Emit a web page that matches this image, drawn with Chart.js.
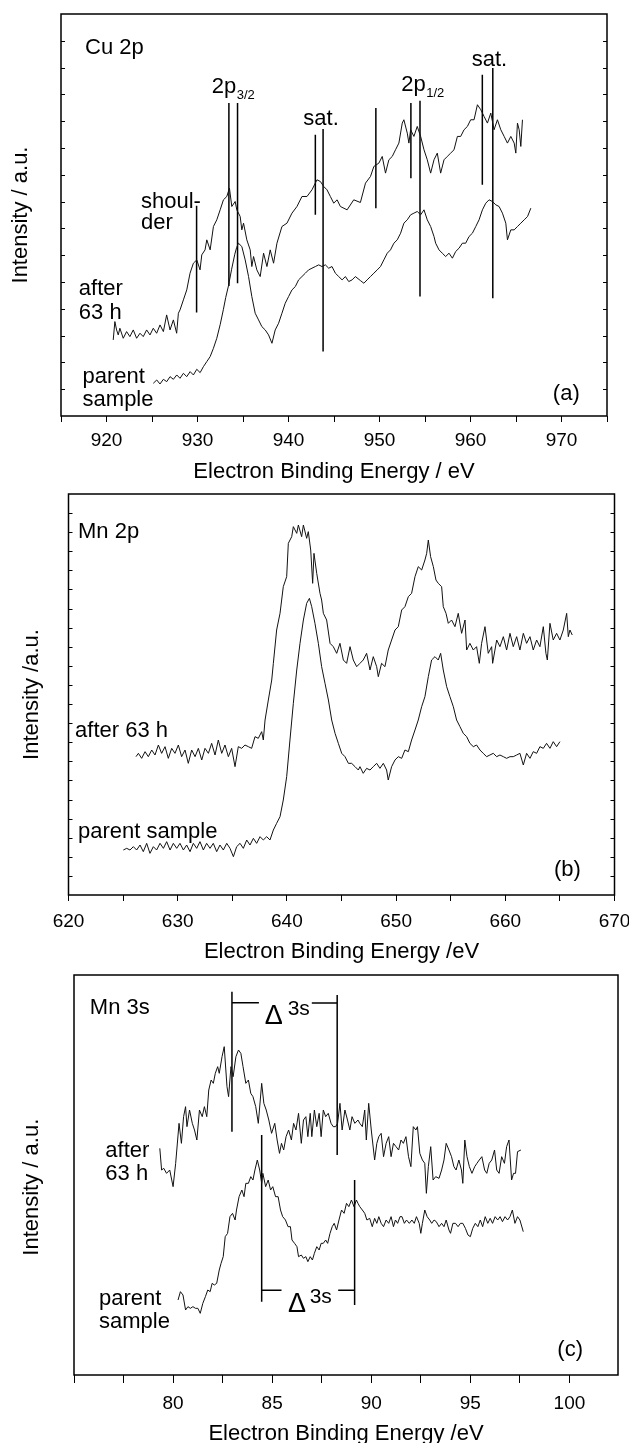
<!DOCTYPE html>
<html>
<head>
<meta charset="utf-8">
<title>XPS spectra: Cu 2p, Mn 2p, Mn 3s</title>
<script src="https://cdn.jsdelivr.net/npm/chart.js@4.4.1/dist/chart.umd.min.js"></script>
<style>
  html, body { margin: 0; padding: 0; background: #fff; overflow: hidden; }
  body { width: 629px; height: 1443px; position: relative; }
  canvas { position: absolute; left: 0; }
</style>
</head>
<body>
<canvas id="cu2p" width="629" height="500" style="top:0px"></canvas>
<canvas id="mn2p" width="629" height="500" style="top:480px"></canvas>
<canvas id="mn3s" width="629" height="500" style="top:960px"></canvas>
<script>
const FONT = '"Liberation Sans", Arial, Helvetica, sans-serif';
Chart.defaults.font.family = FONT;
Chart.defaults.color = '#000';

// ---------- (a) Cu 2p ----------
const cuAfterEnergy = [
  920.74, 920.92, 921.11, 921.29, 921.47, 921.84, 922.21, 922.57, 922.94, 923.31,
  923.68, 924.04, 924.41, 924.78, 925.14, 925.51, 925.88, 926.25, 926.61, 926.98,
  927.35, 927.71, 927.90, 928.08, 928.45, 928.82, 929.18, 929.55, 929.92, 930.28,
  930.47, 930.83, 931.02, 931.39, 931.75, 932.12, 932.49, 932.85, 933.22, 933.51,
  933.77, 934.14, 934.32, 934.69, 934.87, 935.06, 935.42, 935.79, 935.97, 936.16,
  936.52, 936.89, 937.26, 937.63, 937.99, 938.36, 938.73, 939.28, 939.83, 940.38,
  940.93, 941.48, 942.03, 942.58, 943.13, 943.50, 943.87, 944.23, 944.60, 944.97,
  945.34, 945.70, 946.44, 947.17, 947.90, 948.46, 949.01, 949.38, 949.93, 950.30,
  950.66, 951.03, 951.40, 951.76, 952.13, 952.50, 952.68, 953.05, 953.23, 953.42,
  953.78, 954.15, 954.52, 954.89, 955.25, 955.62, 955.99, 956.35, 956.72, 957.09,
  957.45, 957.82, 958.19, 958.56, 958.92, 959.29, 959.66, 960.02, 960.39, 960.76,
  961.13, 961.49, 961.86, 962.23, 962.59, 962.96, 963.33, 963.70, 964.06, 964.43,
  964.80, 964.98, 965.16, 965.35, 965.53, 965.71
];
const cuAfterCounts = [
  22.8, 28.3, 25.8, 24.3, 26.3, 23.3, 25.3, 23.8, 25.8, 23.3,
  24.8, 23.8, 25.8, 24.3, 26.3, 24.8, 27.3, 25.3, 30.3, 25.8,
  28.8, 24.8, 30.8, 31.8, 34.8, 37.8, 42.8, 45.8, 46.8, 43.8,
  48.3, 49.8, 52.8, 49.8, 56.8, 58.8, 61.8, 64.8, 65.8, 68.3,
  62.8, 64.3, 61.8, 59.8, 55.8, 57.8, 52.8, 49.8, 44.8, 47.8,
  43.8, 41.8, 48.8, 44.8, 49.8, 45.8, 51.8, 56.8, 57.8, 60.8,
  62.8, 65.8, 65.8, 67.8, 70.8, 70.3, 68.8, 67.8, 65.8, 63.8,
  64.8, 62.8, 61.8, 64.8, 64.0, 69.8, 71.8, 74.8, 75.8, 77.8,
  72.8, 76.8, 77.8, 79.8, 81.8, 87.8, 88.8, 84.8, 81.8, 85.8,
  83.8, 86.8, 83.8, 79.8, 76.8, 72.8, 76.8, 78.8, 72.8, 76.8,
  77.8, 78.8, 79.8, 83.8, 83.8, 85.8, 86.8, 88.8, 88.8, 93.3,
  91.8, 89.8, 87.8, 90.8, 85.8, 88.8, 85.8, 83.8, 81.8, 83.8,
  81.8, 78.8, 87.8, 85.8, 80.8, 88.8
];
const cuParentEnergy = [
  925.14, 925.52, 925.88, 926.25, 926.62, 926.98, 927.35, 927.72, 928.08, 928.45,
  928.82, 929.19, 929.55, 929.92, 930.29, 930.65, 931.02, 931.39, 931.75, 932.12,
  932.50, 932.85, 933.10, 933.40, 933.75, 934.10, 934.30, 934.50, 934.87, 935.24,
  935.61, 935.97, 936.34, 936.71, 937.07, 937.44, 937.81, 938.18, 938.54, 938.91,
  939.28, 939.64, 940.01, 940.38, 940.75, 941.11, 941.48, 941.85, 942.21, 942.58,
  942.95, 943.32, 943.68, 944.05, 944.42, 944.78, 945.15, 945.52, 945.89, 946.25,
  946.62, 946.99, 947.35, 947.90, 948.28, 948.64, 949.01, 949.38, 949.75, 950.11,
  950.48, 950.85, 951.21, 951.58, 951.95, 952.32, 952.68, 953.05, 953.42, 953.78,
  954.15, 954.52, 954.89, 955.25, 955.62, 955.99, 956.17, 956.54, 956.90, 957.27,
  957.64, 958.01, 958.37, 958.74, 959.11, 959.47, 959.84, 960.21, 960.58, 960.94,
  961.31, 961.68, 962.04, 962.41, 962.78, 963.14, 963.51, 963.88, 964.06, 964.43,
  964.80, 965.16, 965.53, 965.90, 966.27, 966.63
];
const cuParentCounts = [
  9.8, 10.8, 9.6, 11.0, 10.3, 11.8, 11.0, 12.3, 11.3, 12.8,
  11.8, 13.3, 12.3, 14.0, 13.0, 14.8, 16.3, 17.8, 20.3, 23.3,
  27.5, 32.0, 35.5, 39.0, 44.0, 48.5, 50.5, 51.8, 50.8, 46.8,
  41.8, 35.8, 30.8, 28.8, 26.8, 25.8, 24.3, 21.8, 25.8, 27.8,
  30.8, 33.8, 35.8, 37.8, 38.8, 40.8, 41.8, 42.8, 43.8, 44.3,
  44.8, 45.3, 44.8, 45.3, 44.3, 44.8, 42.8, 41.8, 40.8, 41.8,
  40.3, 40.8, 41.8, 40.6, 39.8, 40.8, 41.8, 42.8, 43.8, 44.8,
  46.8, 48.8, 49.8, 51.8, 52.8, 54.8, 57.8, 58.8, 60.3, 60.8,
  61.3, 60.3, 61.8, 58.8, 56.8, 53.8, 51.8, 49.8, 48.8, 47.8,
  48.8, 47.3, 49.3, 50.3, 51.8, 51.8, 53.8, 54.8, 56.8, 58.8,
  61.8, 63.8, 64.8, 64.3, 63.3, 62.8, 60.8, 57.8, 52.8, 55.8,
  55.8, 56.8, 57.8, 58.8, 59.8, 62.3
];
// peak markers: [energy, top, bottom]
const cuPeakLines = [
  [929.9, 63.0, 31.0], [933.45, 93.8, 39.0], [934.4, 93.8, 39.8],
  [942.95, 84.3, 60.3], [943.8, 86.0, 19.3], [949.6, 92.3, 62.3],
  [953.45, 93.8, 71.3], [954.45, 94.5, 35.8], [961.3, 102.3, 69.3],
  [962.45, 104.3, 35.3]
];
const cuTickLabels = [920, 930, 940, 950, 960, 970];

// ---------- (b) Mn 2p ----------
const mnAfterEnergy = [
  626.18, 626.40, 626.70, 627.01, 627.31, 627.62, 627.92, 628.23, 628.53, 628.84,
  629.14, 629.45, 629.75, 630.06, 630.36, 630.67, 630.97, 631.28, 631.59, 631.89,
  632.20, 632.50, 632.81, 633.11, 633.42, 633.72, 634.03, 634.33, 634.64, 634.94,
  635.25, 635.55, 635.86, 636.16, 636.47, 636.77, 637.08, 637.38, 637.69, 637.84,
  638.00, 638.30, 638.61, 638.76, 639.06, 639.37, 639.67, 639.98, 640.13, 640.44,
  640.59, 640.90, 641.05, 641.35, 641.51, 641.81, 641.96, 642.18, 642.36, 642.48,
  642.73, 643.03, 643.18, 643.34, 643.64, 643.95, 644.25, 644.56, 644.86, 645.17,
  645.47, 645.78, 646.08, 646.39, 646.69, 646.99, 647.30, 647.61, 647.91, 648.22,
  648.37, 648.67, 648.98, 649.28, 649.59, 649.90, 650.20, 650.51, 650.81, 651.12,
  651.42, 651.73, 652.03, 652.34, 652.64, 652.80, 652.95, 653.16, 653.41, 653.65,
  653.86, 654.17, 654.32, 654.57, 654.78, 655.08, 655.39, 655.69, 656.00, 656.31,
  656.46, 656.76, 657.07, 657.37, 657.62, 657.83, 658.14, 658.44, 658.75, 658.84,
  659.21, 659.51, 659.82, 660.12, 660.43, 660.73, 661.04, 661.34, 661.65, 661.95,
  662.26, 662.56, 662.87, 663.17, 663.48, 663.72, 663.85, 664.09, 664.39, 664.70,
  665.00, 665.31, 665.62, 665.77, 665.92, 666.13
];
const mnAfterCounts = [
  41.5, 42.5, 41.0, 43.0, 41.5, 43.5, 42.0, 45.0, 42.5, 44.5,
  41.0, 44.0, 42.5, 45.0, 41.5, 43.5, 39.5, 43.5, 41.5, 44.0,
  40.5, 44.0, 42.5, 45.5, 42.0, 46.5, 42.5, 45.0, 41.5, 44.0,
  38.5, 44.5, 44.0, 45.0, 44.5, 44.0, 47.5, 47.0, 49.0, 46.5,
  52.5, 58.5, 64.5, 69.5, 79.5, 84.5, 92.5, 95.5, 105.5, 107.5,
  110.5, 108.5, 111.0, 107.5, 111.0, 107.0, 109.0, 103.5, 93.5, 102.5,
  96.5, 90.5, 88.5, 84.5, 82.5, 75.5, 74.5, 72.5, 75.5, 70.5,
  69.5, 74.5, 70.5, 68.5, 69.5, 70.5, 72.5, 67.5, 71.5, 68.5,
  65.5, 69.5, 68.5, 73.5, 76.5, 79.5, 80.5, 85.5, 86.5, 89.5,
  90.5, 95.5, 98.5, 97.5, 100.5, 102.5, 106.5, 101.5, 98.5, 94.5,
  93.5, 92.5, 86.5, 84.5, 81.5, 82.5, 80.5, 84.5, 78.5, 82.5,
  73.5, 75.5, 73.5, 74.5, 69.5, 75.5, 80.5, 72.5, 74.5, 69.5,
  76.5, 74.5, 77.5, 73.5, 78.5, 74.5, 77.5, 73.5, 78.5, 75.5,
  77.5, 73.5, 76.5, 74.5, 80.5, 72.5, 70.5, 81.5, 76.5, 78.5,
  76.5, 79.5, 84.5, 77.5, 79.5, 78.0
];
const mnParentEnergy = [
  625.02, 625.33, 625.63, 625.94, 626.24, 626.55, 626.85, 627.16, 627.46, 627.77,
  628.07, 628.38, 628.69, 628.99, 629.30, 629.60, 629.91, 630.21, 630.52, 630.82,
  631.13, 631.43, 631.74, 632.04, 632.35, 632.65, 632.96, 633.26, 633.57, 633.87,
  634.18, 634.49, 634.79, 635.10, 635.40, 635.71, 636.01, 636.32, 636.62, 636.93,
  637.23, 637.54, 637.84, 638.15, 638.45, 638.76, 639.06, 639.37, 639.67, 639.98,
  640.28, 640.59, 640.90, 641.20, 641.51, 641.81, 642.06, 642.27, 642.57, 642.88,
  643.18, 643.49, 643.80, 644.10, 644.41, 644.71, 645.02, 645.32, 645.63, 645.93,
  646.24, 646.54, 646.69, 646.99, 647.30, 647.61, 647.91, 648.22, 648.52, 648.83,
  649.13, 649.28, 649.59, 649.90, 650.20, 650.51, 650.81, 651.12, 651.42, 651.73,
  652.03, 652.34, 652.64, 652.95, 653.25, 653.56, 653.86, 654.08, 654.32, 654.63,
  654.93, 655.24, 655.54, 655.85, 656.15, 656.46, 656.76, 657.07, 657.37, 657.68,
  657.98, 658.29, 658.59, 658.90, 659.21, 659.51, 659.82, 660.12, 660.43, 660.73,
  661.04, 661.34, 661.65, 661.95, 662.26, 662.56, 662.87, 663.17, 663.48, 663.78,
  664.09, 664.39, 664.70, 665.00
];
const mnParentCounts = [
  13.5, 14.0, 13.5, 14.5, 13.5, 15.0, 13.0, 15.5, 12.5, 14.5,
  13.5, 15.5, 14.0, 16.0, 13.5, 15.5, 14.0, 15.5, 13.5, 15.0,
  13.0, 15.5, 14.0, 16.0, 13.5, 15.5, 14.0, 15.5, 13.0, 15.0,
  13.5, 15.5, 14.0, 11.5, 14.5, 15.5, 14.0, 16.5, 15.0, 17.0,
  15.5, 17.5, 16.5, 17.5, 16.5, 19.5, 21.5, 23.5, 28.5, 35.5,
  46.5, 57.5, 67.5, 75.5, 82.5, 87.5, 89.0, 86.5, 81.5, 75.5,
  68.5, 63.5, 58.5, 52.5, 48.5, 45.5, 42.5, 41.5, 39.5, 39.5,
  38.5, 37.5, 38.5, 36.5, 38.0, 37.5, 38.5, 39.5, 38.0, 39.5,
  37.5, 34.5, 38.5, 40.5, 41.5, 41.0, 43.5, 43.0, 46.5, 49.5,
  52.5, 56.5, 59.5, 65.5, 70.5, 71.5, 70.5, 72.5, 67.5, 62.5,
  59.5, 56.5, 52.5, 50.5, 48.5, 47.5, 45.5, 44.5, 45.0, 43.5,
  42.5, 41.5, 42.0, 42.5, 41.5, 42.0, 41.5, 41.0, 41.5, 41.5,
  42.0, 42.5, 39.0, 42.5, 41.0, 43.0, 42.5, 44.5, 44.0, 45.5,
  44.0, 46.0, 44.5, 46.0
];
const mnTickLabels = [620, 630, 640, 650, 660, 670];

// ---------- (c) Mn 3s ----------
const mn3sAfterEnergy = [
  79.33, 79.42, 79.53, 79.67, 79.83, 80.00, 80.13, 80.30, 80.42, 80.53,
  80.63, 80.70, 80.83, 80.97, 81.08, 81.20, 81.33, 81.47, 81.58, 81.70,
  81.80, 81.92, 82.03, 82.13, 82.25, 82.33, 82.47, 82.58, 82.72, 82.80,
  82.92, 83.03, 83.17, 83.30, 83.42, 83.53, 83.67, 83.80, 83.92, 84.03,
  84.17, 84.30, 84.47, 84.58, 84.70, 84.83, 84.97, 85.13, 85.25, 85.37,
  85.47, 85.58, 85.70, 85.83, 85.97, 86.08, 86.20, 86.33, 86.47, 86.58,
  86.70, 86.80, 86.92, 87.00, 87.13, 87.25, 87.37, 87.47, 87.58, 87.70,
  87.83, 87.97, 88.08, 88.20, 88.30, 88.42, 88.53, 88.67, 88.80, 88.92,
  89.03, 89.17, 89.33, 89.42, 89.55, 89.67, 89.75, 89.87, 90.00, 90.17,
  90.28, 90.38, 90.50, 90.62, 90.75, 90.88, 91.00, 91.12, 91.25, 91.38,
  91.50, 91.62, 91.75, 91.88, 92.00, 92.12, 92.25, 92.33, 92.45, 92.58,
  92.70, 92.78, 92.88, 93.00, 93.12, 93.25, 93.42, 93.55, 93.67, 93.78,
  93.92, 94.05, 94.17, 94.28, 94.42, 94.55, 94.62, 94.72, 94.83, 94.95,
  95.08, 95.22, 95.33, 95.45, 95.58, 95.72, 95.83, 95.95, 96.08, 96.22,
  96.33, 96.45, 96.58, 96.72, 96.83, 96.95, 97.08, 97.18, 97.28, 97.38,
  97.55
];
const mn3sAfterCounts = [
  68.0, 61.5, 62.0, 60.5, 61.5, 56.5, 63.5, 75.5, 69.5, 77.5,
  80.5, 74.5, 79.5, 75.5, 73.5, 70.5, 79.5, 77.5, 80.5, 77.5,
  85.5, 88.5, 87.5, 90.5, 92.5, 90.5, 95.5, 98.5, 86.5, 83.5,
  92.5, 89.5, 95.5, 97.5, 96.5, 92.5, 87.5, 88.5, 84.5, 83.5,
  80.5, 75.5, 87.5, 81.5, 79.5, 76.5, 72.5, 75.5, 70.5, 66.5,
  69.5, 67.5, 71.5, 73.5, 70.5, 75.5, 73.5, 78.5, 69.5, 76.5,
  77.5, 71.5, 78.5, 71.5, 79.5, 74.5, 78.5, 71.5, 79.5, 77.5,
  78.5, 75.5, 74.5, 74.5, 75.5, 81.5, 73.5, 79.5, 76.5, 73.5,
  77.5, 75.5, 76.5, 75.5, 74.5, 79.5, 70.5, 81.5, 73.5, 64.5,
  69.5, 71.5, 72.5, 65.5, 69.5, 71.5, 65.5, 69.5, 68.5, 67.5,
  70.5, 69.5, 71.5, 65.5, 62.5, 74.5, 73.5, 74.5, 66.5, 64.5,
  63.5, 54.5, 62.5, 68.5, 58.5, 59.5, 59.0, 61.5, 64.5, 69.5,
  67.5, 65.5, 62.5, 61.5, 64.5, 61.5, 57.5, 70.5, 65.5, 62.5,
  60.5, 62.5, 63.5, 64.5, 65.5, 61.5, 60.5, 63.5, 64.5, 67.5,
  61.5, 60.5, 65.5, 63.5, 68.5, 70.5, 58.5, 60.5, 60.5, 67.0,
  67.5
];
const mn3sParentEnergy = [
  80.25, 80.37, 80.50, 80.63, 80.75, 80.87, 81.00, 81.13, 81.25, 81.37,
  81.50, 81.63, 81.75, 81.87, 81.97, 82.08, 82.20, 82.33, 82.42, 82.53,
  82.63, 82.75, 82.87, 83.00, 83.13, 83.20, 83.33, 83.47, 83.58, 83.67,
  83.80, 83.92, 84.03, 84.13, 84.25, 84.37, 84.47, 84.53, 84.67, 84.80,
  84.92, 85.03, 85.17, 85.30, 85.42, 85.53, 85.67, 85.80, 85.92, 86.00,
  86.13, 86.25, 86.33, 86.47, 86.58, 86.70, 86.80, 86.92, 87.03, 87.13,
  87.25, 87.37, 87.47, 87.58, 87.70, 87.80, 87.92, 88.03, 88.13, 88.25,
  88.37, 88.50, 88.63, 88.75, 88.87, 89.00, 89.13, 89.25, 89.33, 89.42,
  89.55, 89.67, 89.78, 89.92, 90.05, 90.17, 90.28, 90.38, 90.50, 90.62,
  90.75, 90.88, 91.00, 91.12, 91.22, 91.33, 91.45, 91.55, 91.67, 91.78,
  91.92, 92.05, 92.17, 92.28, 92.42, 92.50, 92.58, 92.70, 92.82, 92.95,
  93.05, 93.17, 93.28, 93.42, 93.55, 93.67, 93.78, 93.92, 94.00, 94.12,
  94.25, 94.38, 94.50, 94.62, 94.75, 94.88, 95.00, 95.12, 95.25, 95.38,
  95.50, 95.62, 95.75, 95.88, 96.00, 96.12, 96.25, 96.38, 96.50, 96.62,
  96.75, 96.88, 97.00, 97.12, 97.25, 97.38, 97.50, 97.67
];
const mn3sParentCounts = [
  22.5, 25.0, 24.0, 19.5, 20.5, 20.0, 20.5, 20.0, 20.0, 18.5,
  21.5, 23.5, 25.5, 25.0, 27.5, 27.0, 27.5, 31.5, 33.5, 35.5,
  41.5, 42.5, 47.5, 48.5, 46.5, 49.5, 53.5, 55.5, 53.5, 57.5,
  57.5, 59.5, 58.5, 61.5, 64.5, 61.5, 57.5, 60.5, 56.5, 58.5,
  55.5, 56.5, 53.5, 53.5, 49.5, 47.5, 46.5, 44.5, 44.5, 40.5,
  39.5, 38.5, 35.5, 36.0, 35.0, 35.5, 34.0, 35.5, 34.5, 36.5,
  38.5, 37.5, 39.5, 39.5, 40.5, 39.5, 42.5, 44.5, 45.5, 43.5,
  46.5, 49.5, 48.5, 51.5, 50.5, 52.5, 50.5, 52.5, 51.5, 50.5,
  49.5, 48.5, 46.5, 47.0, 44.5, 47.0, 45.5, 47.5, 45.5, 44.5,
  46.5, 45.5, 47.5, 44.5, 46.5, 45.5, 47.5, 47.5, 45.5, 46.5,
  45.5, 46.5, 45.5, 47.5, 45.5, 42.5, 45.5, 49.5, 47.5, 46.5,
  45.5, 46.5, 46.0, 44.5, 45.5, 44.5, 46.5, 43.5, 42.5, 45.5,
  45.5, 44.5, 45.5, 45.5, 44.0, 42.0, 41.5, 44.0, 45.5, 44.5,
  46.5, 44.5, 47.5, 45.5, 47.0, 45.5, 47.5, 46.5, 47.5, 46.0,
  47.5, 46.5, 47.5, 49.5, 45.5, 47.5, 46.5, 43.0
];
// Delta 3s brackets: pairs of [energy, intensity] end points
const mn3sBrackets = [
  [[82.97, 115.0], [82.97, 73.0]], [[88.28, 114.0], [88.28, 66.0]],
  [[82.97, 111.7], [84.33, 111.7]], [[87.00, 111.6], [88.28, 111.6]],
  [[84.47, 72.0], [84.47, 22.0]], [[89.16, 58.5], [89.16, 21.0]],
  [[84.47, 25.4], [85.47, 25.4]], [[88.33, 25.4], [89.16, 25.4]]
];
const mn3sTickLabels = [80, 85, 90, 95, 100];

// ---------- helpers ----------
function points(xs, ys) {
  return xs.map((x, i) => ({ x: x, y: ys[i] }));
}
function segments(list) {
  const out = [];
  list.forEach(s => {
    out.push({ x: s[0][0], y: s[0][1] }, { x: s[1][0], y: s[1][1] }, { x: s[1][0], y: null });
  });
  return out;
}

function panel(id, cfg) {
  const decor = {
    id: 'decor',
    afterDatasetsDraw(chart) {
      const { ctx, chartArea: a, scales: { x, y } } = chart;
      ctx.save();
      ctx.strokeStyle = '#000';
      ctx.lineWidth = 1.5;
      ctx.strokeRect(a.left, a.top, a.right - a.left, a.bottom - a.top);
      if (cfg.yStep) {
        ctx.lineWidth = 1;
        y.ticks.forEach(t => {
          const py = Math.round(y.getPixelForValue(t.value)) + 0.5;
          if (py < a.top + 3 || py > a.bottom - 3) return;
          ctx.beginPath();
          ctx.moveTo(a.left, py); ctx.lineTo(a.left + 4, py);
          ctx.moveTo(a.right, py); ctx.lineTo(a.right - 4, py);
          ctx.stroke();
        });
      }
      ctx.fillStyle = '#000';
      ctx.textAlign = 'left';
      ctx.textBaseline = 'alphabetic';
      cfg.notes.forEach(n => {
        ctx.font = (n.size || 22) + 'px ' + FONT;
        const px = x.getPixelForValue(n.x);
        ctx.fillText(n.text, px, y.getPixelForValue(n.y));
        if (n.sub) {
          const w = ctx.measureText(n.text).width;
          ctx.font = '13px ' + FONT;
          ctx.fillText(n.sub, px + w + 0.5, y.getPixelForValue(n.subY));
        }
      });
      ctx.restore();
    }
  };

  new Chart(document.getElementById(id), {
    type: 'line',
    data: {
      datasets: [
        { data: points(cfg.after[0], cfg.after[1]), borderColor: '#111', borderWidth: 1 },
        { data: points(cfg.parent[0], cfg.parent[1]), borderColor: '#111', borderWidth: 1 },
        { data: segments(cfg.lines), borderColor: '#000', borderWidth: 1.5 }
      ]
    },
    options: {
      responsive: false,
      animation: false,
      events: [],
      layout: { padding: { left: 0, top: cfg.area.top, right: 629 - cfg.area.right, bottom: 0 } },
      plugins: { legend: { display: false }, tooltip: { enabled: false } },
      elements: { point: { radius: 0 }, line: { tension: 0, fill: false } },
      scales: {
        x: {
          type: 'linear',
          min: cfg.xMin,
          max: cfg.xMax,
          border: { display: false },
          grid: { drawOnChartArea: false, drawTicks: true, tickLength: cfg.tickLen, color: '#000', lineWidth: 1 },
          ticks: {
            stepSize: cfg.xStep, includeBounds: false, autoSkip: false, maxRotation: 0, minRotation: 0,
            padding: cfg.tickPad, color: '#000', font: { size: 19 },
            callback: v => cfg.xLabels.includes(v) ? String(v) : ''
          },
          title: {
            display: true, text: cfg.xTitle, color: '#000', font: { size: 22 },
            padding: { top: 0, bottom: cfg.xTitlePad }
          },
          afterFit: s => { s.height = 500 - cfg.area.bottom; s.paddingLeft = 0; s.paddingRight = 0; }
        },
        y: {
          min: 0,
          max: cfg.yMax,
          border: { display: false },
          grid: { display: false },
          ticks: { display: false, stepSize: cfg.yStep || undefined },
          title: {
            display: true, text: cfg.yTitle, color: '#000', font: { size: 22 },
            padding: { top: cfg.yTitlePad, bottom: 0 }
          },
          afterFit: s => { s.width = cfg.area.left; s.paddingTop = 0; s.paddingBottom = 0; }
        }
      }
    },
    plugins: [decor]
  });
}

panel('cu2p', {
  area: { left: 61, top: 14, right: 607, bottom: 416 },
  xMin: 915, xMax: 975, xStep: 5, xLabels: cuTickLabels, tickLen: 6, tickPad: 7,
  yMax: 120.5, yStep: 120.5 / 15,
  xTitle: 'Electron Binding Energy / eV', xTitlePad: 14.8,
  yTitle: 'Intensity / a.u.', yTitlePad: 7.8,
  after: [cuAfterEnergy, cuAfterCounts],
  parent: [cuParentEnergy, cuParentCounts],
  lines: cuPeakLines.map(p => [[p[0], p[1]], [p[0], p[2]]]),
  notes: [
    { text: 'Cu 2p', x: 917.64, y: 108.6 },
    { text: '2p', sub: '3/2', x: 931.57, y: 96.8, subY: 95.1 },
    { text: 'sat.', x: 941.63, y: 87.3 },
    { text: '2p', sub: '1/2', x: 952.39, y: 97.3, subY: 95.6 },
    { text: 'sat.', x: 960.13, y: 105.0 },
    { text: 'shoul-', x: 923.79, y: 62.3 },
    { text: 'der', x: 923.79, y: 56.2 },
    { text: 'after', x: 916.96, y: 36.3 },
    { text: '63 h', x: 916.96, y: 29.0 },
    { text: 'parent', x: 917.37, y: 10.0 },
    { text: 'sample', x: 917.37, y: 3.0 },
    { text: '(a)', x: 969.05, y: 4.8 }
  ]
});

panel('mn2p', {
  area: { left: 68.5, top: 14, right: 614.5, bottom: 415 },
  xMin: 620, xMax: 670, xStep: 5, xLabels: mnTickLabels, tickLen: 6, tickPad: 9,
  yMax: 120.3, yStep: 120.3 / 21,
  xTitle: 'Electron Binding Energy /eV', xTitlePad: 14.8,
  yTitle: 'Intensity /a.u.', yTitlePad: 18.8,
  after: [mnAfterEnergy, mnAfterCounts],
  parent: [mnParentEnergy, mnParentCounts],
  lines: [],
  notes: [
    { text: 'Mn 2p', x: 620.87, y: 107.0 },
    { text: 'after 63 h', x: 620.6, y: 47.5 },
    { text: 'parent sample', x: 620.87, y: 17.2 },
    { text: '(b)', x: 664.46, y: 5.7 }
  ]
});

panel('mn3s', {
  area: { left: 74, top: 15, right: 618, bottom: 415 },
  xMin: 75, xMax: 102.45, xStep: 2.5, xLabels: mn3sTickLabels, tickLen: 8, tickPad: 9,
  yMax: 120, yStep: 0,
  xTitle: 'Electron Binding Energy /eV', xTitlePad: 12.8,
  yTitle: 'Intensity / a.u.    ', yTitlePad: 18.8,
  after: [mn3sAfterEnergy, mn3sAfterCounts],
  parent: [mn3sParentEnergy, mn3sParentCounts],
  lines: mn3sBrackets,
  notes: [
    { text: 'Mn 3s', x: 75.8, y: 108.3 },
    { text: 'after', x: 76.58, y: 65.4 },
    { text: '63 h', x: 76.58, y: 58.5 },
    { text: 'parent', x: 76.26, y: 21.0 },
    { text: 'sample', x: 76.26, y: 14.0 },
    { text: '(c)', x: 99.39, y: 5.7 },
    { text: '\u0394', x: 84.62, y: 105.3, size: 27 },
    { text: '3s', x: 85.78, y: 108.0, size: 21 },
    { text: '\u0394', x: 85.8, y: 18.8, size: 27 },
    { text: '3s', x: 86.89, y: 21.5, size: 21 }
  ]
});
</script>
</body>
</html>
